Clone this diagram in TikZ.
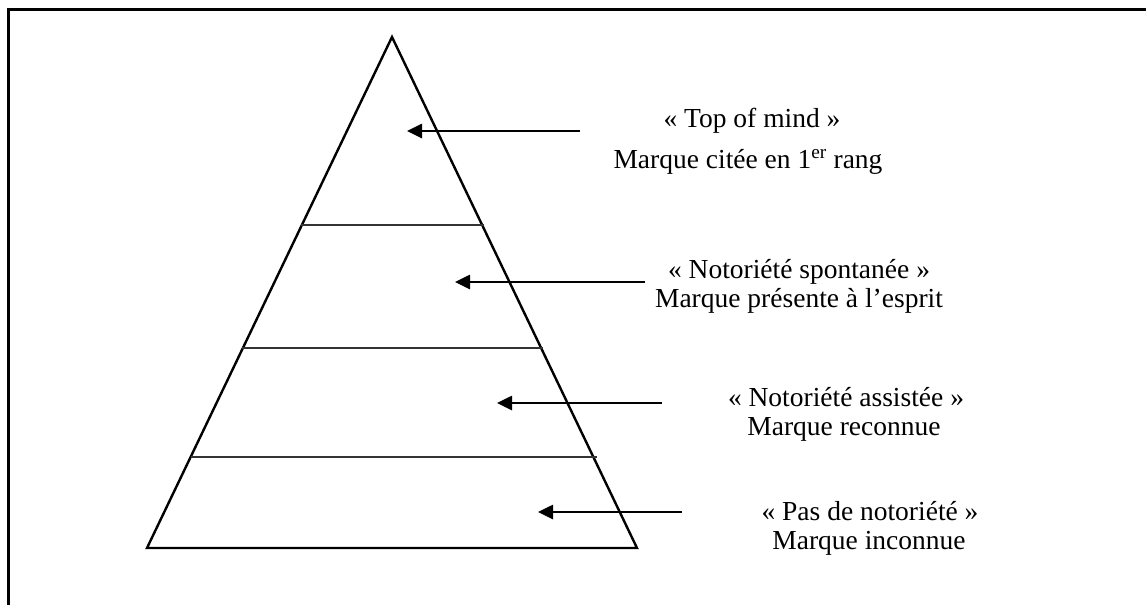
\documentclass[tikz,border=0pt]{standalone}
\usepackage{fontspec}
\setmainfont{Liberation Serif}
\usetikzlibrary{arrows.meta}
\begin{document}
\begin{tikzpicture}[x=1pt,y=-1pt,
  lbl/.style={anchor=base,inner sep=0pt,font=\fontsize{27.5}{31}\selectfont},
  pyr/.style={line width=2.4pt,line join=miter},
  level/.style={line width=1.3pt,draw=black!80},
  pointer/.style={line width=2.6pt,-{Triangle[length=15pt,width=14pt]}},
  frame/.style={line width=3pt}]
\useasboundingbox (0,0) rectangle (1146,605);
% frame (only top and left edges are visible)
\draw[frame] (8.5,620) -- (8.5,9.5) -- (1160,9.5);
% pyramid
\coordinate (apex) at (392,37);
\coordinate (bl) at (147,548);
\coordinate (br) at (637,548);
\draw[pyr] (apex) -- (bl) -- (br) -- cycle;
% level lines
\coordinate (l1a) at (301,225); \coordinate (l1b) at (484,225);
\coordinate (l2a) at (242,348); \coordinate (l2b) at (543,348);
\coordinate (l3a) at (191,457); \coordinate (l3b) at (597,457);
\draw[level] (l1a) -- (l1b);
\draw[level] (l2a) -- (l2b);
\draw[level] (l3a) -- (l3b);
% labels
\node[lbl] (t1a) at (752,127) {« Top of mind »};
\node[lbl] (t1b) at (748,168) {Marque citée en 1\textsuperscript{er} rang};
\node[lbl] (t2a) at (799,278) {« Notoriété spontanée »};
\node[lbl] (t2b) at (799,307) {Marque présente à l’esprit};
\node[lbl] (t3a) at (846,406) {« Notoriété assistée »};
\node[lbl] (t3b) at (844,435) {Marque reconnue};
\node[lbl] (t4a) at (870,520) {« Pas de notoriété »};
\node[lbl] (t4b) at (869,549) {Marque inconnue};
% arrows
\coordinate (a1s) at (580,131); \coordinate (a1e) at (407,131);
\coordinate (a2s) at (645,282); \coordinate (a2e) at (455,282);
\coordinate (a3s) at (662,403); \coordinate (a3e) at (497,403);
\coordinate (a4s) at (682,512); \coordinate (a4e) at (538,512);
\draw[pointer] (a1s) -- (a1e);
\draw[pointer] (a2s) -- (a2e);
\draw[pointer] (a3s) -- (a3e);
\draw[pointer] (a4s) -- (a4e);
\end{tikzpicture}
\end{document}
